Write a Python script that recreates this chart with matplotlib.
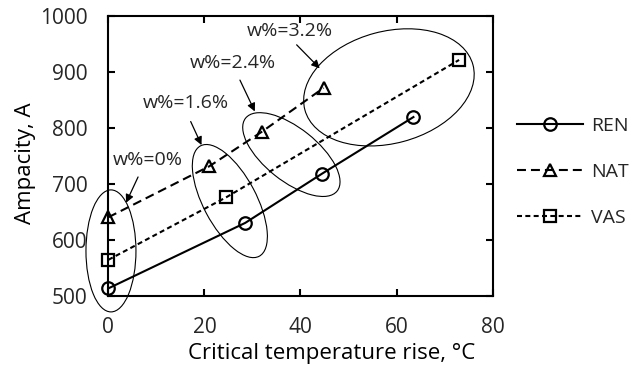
import numpy as np
import matplotlib
matplotlib.use("Agg")
import matplotlib.pyplot as plt
from matplotlib.patches import Ellipse
from matplotlib.transforms import ScaledTranslation

plt.rcParams['font.family'] = ['Open Sans', 'DejaVu Sans']
plt.rcParams['text.color'] = '#262626'
plt.rcParams['xtick.labelcolor'] = '#262626'
plt.rcParams['ytick.labelcolor'] = '#262626'

# series
temp_ren = [0, 28.5, 44.5, 63.5]
amp_ren = [513, 630, 718, 819]
temp_nat = [0, 21, 32, 44.8]
amp_nat = [640, 731, 793, 871]
temp_vas = [0, 24.6, 73]
amp_vas = [564, 676, 921]

x_ticks = [0, 20, 40, 60, 80]
y_ticks = [500, 600, 700, 800, 900, 1000]

# grouping ellipses: centre in data units, size in pixels, angle in degrees
ell_x = [0.56, 25.3, 38.1, 58.4]
ell_y = [580, 669, 752, 872]
ell_w = [122, 125, 117, 174]
ell_h = [50, 53, 53, 112]
ell_ang = [90, -62, -38.5, 15]

# annotation labels
ann_text = ["w%=0%", "w%=1.6%", "w%=2.4%", "w%=3.2%"]
ann_tx = [8.3, 16.2, 25.9, 37.8]
ann_ty = [742, 844, 915, 973]
arr_x0 = [6.2, 17.15, 27.4, 39.2]
arr_y0 = [712, 811, 885, 948]
arr_x1 = [3.7, 19.4, 30.5, 44.0]
arr_y1 = [666, 769, 829, 906]

fig = plt.figure(figsize=(6.38, 3.72), dpi=100)
ax = fig.add_axes([0.1697, 0.2051, 0.6026, 0.7527])

lw = 1.5
ax.plot(temp_ren, amp_ren, color='black', lw=lw, marker='o', ms=9, mew=1.6,
        mfc='none', label='REN', clip_on=False)
nat, = ax.plot(temp_nat, amp_nat, color='black', lw=lw, marker='^', ms=9, mew=1.6,
               mfc='none', label='NAT', clip_on=False)
nat.set_dashes([4.3, 2.4])
vas, = ax.plot(temp_vas, amp_vas, color='black', lw=lw, marker='s', ms=9, mew=1.6,
               mfc='none', label='VAS', clip_on=False)
vas.set_dashes([2.4, 1.6])

ax.set_xlim(0, 80)
ax.set_ylim(500, 1000)
ax.set_xticks(x_ticks)
ax.set_yticks(y_ticks)

for cx, cy, w, h, a in zip(ell_x, ell_y, ell_w, ell_h, ell_ang):
    tr = ScaledTranslation(cx, cy, ax.transData)
    ax.add_patch(Ellipse((0, 0), w, h, angle=a, transform=tr, fill=False,
                         ec='black', lw=0.8, clip_on=False))

for t, tx, ty, x0, y0, x1, y1 in zip(ann_text, ann_tx, ann_ty, arr_x0, arr_y0, arr_x1, arr_y1):
    ax.text(tx, ty, t, ha='center', va='center', fontsize=14)
    ax.annotate('', xy=(x1, y1), xytext=(x0, y0),
                arrowprops=dict(arrowstyle='-|>', color='black', lw=0.9,
                                mutation_scale=12, shrinkA=0, shrinkB=0))

ax.tick_params(direction='in', length=5, width=1.5, top=True, right=True,
               labelsize=15, pad=15)
for s in ax.spines.values():
    s.set_linewidth(1.5)

ax.set_xlabel('Critical temperature rise, °C', fontsize=16, labelpad=4, x=0.582)
ax.set_ylabel('Ampacity, A', fontsize=16, labelpad=3, y=0.472)

ax.legend(loc='center left', bbox_to_anchor=(1.0625, 0.442), frameon=False,
          borderpad=0, borderaxespad=0, handlelength=3.4, handletextpad=0.4,
          labelspacing=1.43, fontsize=14)

fig.savefig('out.png', dpi=100)
